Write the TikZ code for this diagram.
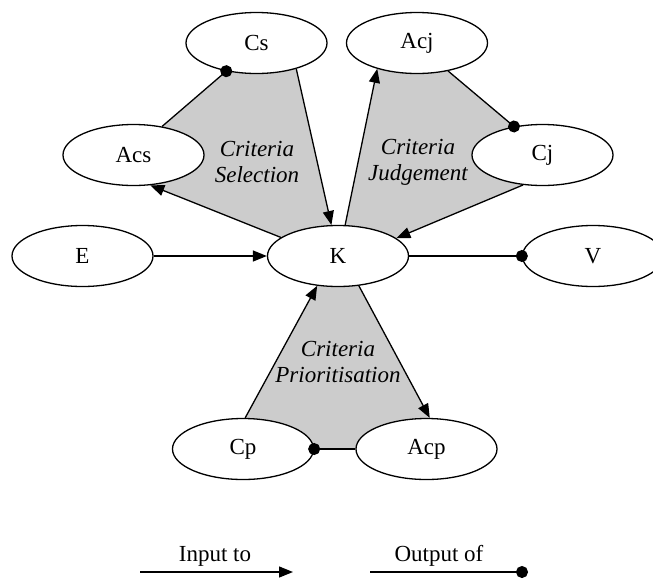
\documentclass[tikz,border=0pt]{standalone}
\usepackage{fontspec}
\setmainfont{Liberation Serif}
\usetikzlibrary{arrows.meta,backgrounds,shapes.geometric}
\definecolor{regiongray}{RGB}{204,204,204}
\begin{document}
\begin{tikzpicture}[x=1pt,y=-1pt,
  state/.style={ellipse,draw,fill=white,line width=1.3pt,
    minimum width=141pt,minimum height=61pt,inner sep=0pt,
    font=\fontsize{23}{27}\selectfont},
  link/.style={line width=1.3pt},
  input/.style={link,-{Triangle[length=14pt,width=11pt]}},
  output/.style={link,-{Circle[length=12pt]},shorten >=-6pt},
  region/.style={fill=regiongray},
  phase/.style={font=\fontsize{23}{26}\selectfont\itshape,align=center},
  legendtext/.style={font=\fontsize{23}{26}\selectfont}
]
\useasboundingbox (0,0) rectangle (653,579);
\clip (0,0) rectangle (653,579);

% states
\node[state] (Cs)  at (256.5,43)  {Cs};
\node[state] (Acj) at (417,43)    {Acj};
\node[state] (Acs) at (133.5,155) {Acs};
\node[state] (Cj)  at (542.5,155) {Cj};
\node[state] (E)   at (82.5,256)  {E};
\node[state] (K)   at (338,256)   {K};
\node[state] (V)   at (593,256)   {V};
\node[state] (Cp)  at (243,449)   {Cp};
\node[state] (Acp) at (426.5,449) {Acp};

% shaded criteria regions behind the states
\begin{scope}[on background layer]
  \fill[region] (Acs.45.5) -- (Cs.223.4) -- (Cs.327) -- (K.102.7)
    -- (K.162.4) -- (Acs.299.4) -- cycle;
  \fill[region] (K.77.7) -- (Acj.213.7) -- (Acj.318) -- (Cj.135.5)
    -- (Cj.237.8) -- (K.17) -- cycle;
  \fill[region] (Cp.86.4) -- (K.235.1) -- (K.305.4) -- (Acp.84)
    -- (Acp.180) -- (Cp.0) -- cycle;
\end{scope}

% region labels
\node[phase] (selLabel) at (257,162) {Criteria\\Selection};
\node[phase] (judLabel) at (418,162) {Criteria\\Judgement};
\node[phase] (priLabel) at (338,362) {Criteria\\Prioritisation};

% connectors
\draw[output] (Acs.45.5) -- (Cs.223.4);
\draw[input]  (Cs.327) -- (K.102.7);
\draw[input]  (K.162.4) -- (Acs.299.4);
\draw[input]  (K.77.7) -- (Acj.213.7);
\draw[output] (Acj.318) -- (Cj.135.5);
\draw[input]  (Cj.237.8) -- (K.17);
\draw[input]  (E.east) -- (K.west);
\draw[output] (K.east) -- (V.west);
\draw[input]  (Cp.86.4) -- (K.235.1);
\draw[input]  (K.305.4) -- (Acp.84);
\draw[output] (Acp.west) -- (Cp.east);

% legend
\coordinate (inStart)  at (140,572);
\coordinate (inEnd)    at (293,572);
\coordinate (outStart) at (370,572);
\coordinate (outEnd)   at (522,572);
\node[legendtext] (inText)  at (215,556) {Input to};
\node[legendtext] (outText) at (439,556) {Output of};
\draw[input]  (inStart) -- (inEnd);
\draw[output] (outStart) -- (outEnd);
\end{tikzpicture}
\end{document}
